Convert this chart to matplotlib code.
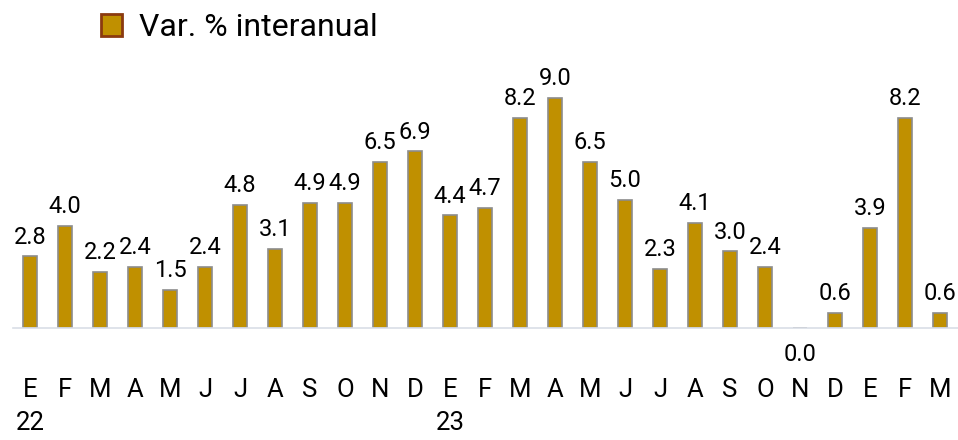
import matplotlib
matplotlib.use("Agg")
import matplotlib.pyplot as plt
from matplotlib.patches import Patch

plt.rcParams['font.family'] = ['Roboto', 'DejaVu Sans']

months = ["E", "F", "M", "A", "M", "J", "J", "A", "S", "O", "N", "D",
          "E", "F", "M", "A", "M", "J", "J", "A", "S", "O", "N", "D",
          "E", "F", "M"]
years = {0: "22", 12: "23"}
values = [2.8, 4.0, 2.2, 2.4, 1.5, 2.4, 4.8, 3.1, 4.9, 4.9, 6.5, 6.9,
          4.4, 4.7, 8.2, 9.0, 6.5, 5.0, 2.3, 4.1, 3.0, 2.4, 0.0, 0.6,
          3.9, 8.2, 0.6]

bar_color = "#C09000"

fig = plt.figure(figsize=(9.58, 4.40), dpi=100)
ax = fig.add_axes([12.5 / 958, 112 / 440, 945 / 958, 256 / 440])

x = list(range(len(values)))
ax.bar(x, values, width=0.4, color=bar_color, edgecolor="#8C8C8C", linewidth=1.2)

for xi, v in zip(x, values):
    if v > 0:
        ax.text(xi, v + 0.3, f"{v:.1f}", ha="center", va="bottom", fontsize=17, clip_on=False)
    else:
        ax.text(xi, -0.6, f"{v:.1f}", ha="center", va="top", fontsize=17, clip_on=False)

labels = [m + ("\n" + years[i] if i in years else "") for i, m in enumerate(months)]
ax.set_xticks(x)
ax.set_xticklabels(labels, fontsize=18.5, linespacing=1.45)
ax.tick_params(axis="x", length=0, pad=36)
ax.set_yticks([])
ax.set_xlim(-0.5, len(values) - 0.5)
ax.set_ylim(0, 10)

for side in ["top", "right", "left"]:
    ax.spines[side].set_visible(False)
ax.spines["bottom"].set_color("#D9DEE6")
ax.spines["bottom"].set_linewidth(1.2)

handle = Patch(facecolor=bar_color, edgecolor="#8B3A0F", linewidth=2)
fig.legend([handle], ["Var. % interanual"], loc="upper left",
           bbox_to_anchor=(72 / 958, 1.035), frameon=False, fontsize=23,
           handlelength=0.65, handleheight=0.65, handletextpad=0.55)

fig.savefig("out.png", dpi=100)
